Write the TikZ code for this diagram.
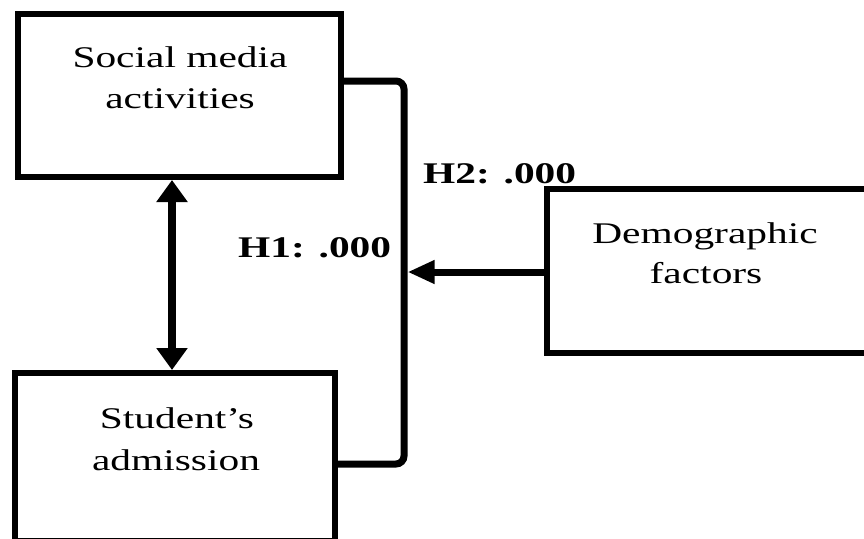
\documentclass[tikz,border=0pt]{standalone}
\usepackage{fontspec}
\setmainfont[FakeStretch=1.38]{Liberation Serif}
\usetikzlibrary{arrows.meta}
\begin{document}
\begin{tikzpicture}[x=1pt,y=-1pt,
  boxnode/.style={draw=black, line width=6pt, inner sep=0pt, fill=none},
  lbl/.style={anchor=base, inner sep=0pt, font=\fontsize{30}{36}\selectfont},
  hlbl/.style={anchor=base west, inner sep=0pt, font=\fontsize{30}{36}\selectfont\bfseries},
  conn/.style={line width=7pt, line cap=butt},
]
\useasboundingbox (0,0) rectangle (864,538);
% boxes
\node[boxnode, minimum width=323pt, minimum height=163pt] (sm) at (179.5,95.5) {};
\node[boxnode, minimum width=320pt, minimum height=168pt] (sa) at (175,457) {};
\node[boxnode, minimum width=330pt, minimum height=164pt] (df) at (712,271) {};
% texts
\node[lbl] (t1) at (180,67) {Social media};
\node[lbl] (t2) at (180,108) {activities};
\node[lbl] (t3) at (177,428) {Student’s};
\node[lbl] (t4) at (176,470) {admission};
\node[lbl] (t5) at (705,243) {Demographic};
\node[lbl] (t6) at (706,283) {factors};
\node[hlbl] (h2) at (423,183) {H2: .000};
\node[hlbl] (h1) at (238,257) {H1: .000};
% bracket
\coordinate (bt) at (sm.east |- 0,81);
\coordinate (bb) at (sa.east |- 0,464);
\coordinate (hit) at (407.5,272);
\draw[conn, rounded corners=8pt] (bt) -- (404,81) -- (404,464) -- (bb);
% arrow from demographic factors
\draw[line width=7pt, -{Triangle[length=27pt, width=22pt]}] (df.west |- hit) -- (hit);
% double arrow
\coordinate (dtop) at (172,177);
\coordinate (dbot) at (172,373);
\draw[line width=8pt, {Triangle[length=22pt, width=30pt]}-{Triangle[length=22pt, width=30pt]}] (sm.south -| dtop) -- (sa.north -| dbot);
\end{tikzpicture}
\end{document}
